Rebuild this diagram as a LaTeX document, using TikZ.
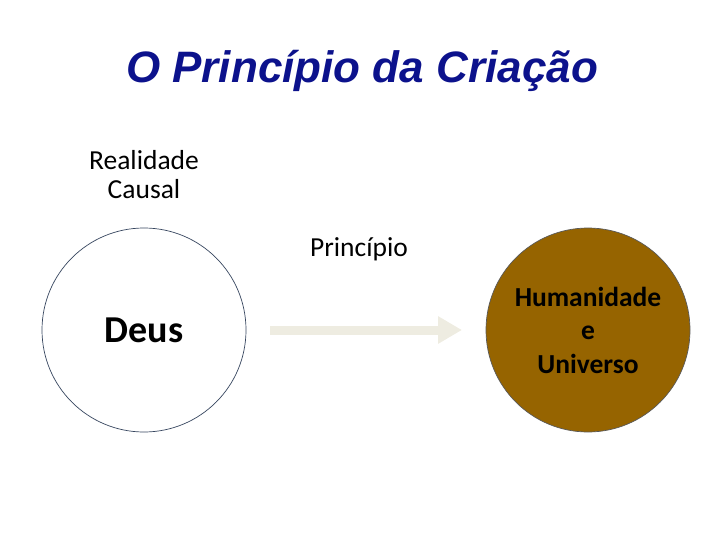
\documentclass[tikz,border=0pt]{standalone}
\usepackage{fontspec}
\setmainfont{Carlito}
\newfontfamily\titlefont{Liberation Sans}
\usetikzlibrary{arrows.meta,positioning}

\definecolor{titleblue}{RGB}{12,18,140}
\definecolor{earthbrown}{RGB}{150,100,0}
\definecolor{arrowbeige}{RGB}{238,236,225}
\definecolor{ringblue}{RGB}{55,70,95}

\begin{document}
\begin{tikzpicture}[
  x=1pt, y=-1pt,
  titletext/.style={font=\titlefont\fontsize{44}{50}\selectfont\bfseries\itshape, text=titleblue},
  plaintext/.style={font=\fontsize{27.5}{29}\selectfont, align=center},
  godcircle/.style={draw=ringblue, line width=0.7pt, circle, minimum size=204pt, inner sep=0pt, fill=white,
    font=\fontsize{38}{44}\selectfont\bfseries},
  worldcircle/.style={draw=black!65, line width=0.7pt, circle, minimum size=204pt, inner sep=0pt, fill=earthbrown,
    align=center, font=\fontsize{27.5}{33.5}\selectfont\bfseries},
  flow/.style={draw=arrowbeige, line width=9pt, -{Triangle[width=26pt,length=24pt]}}
]
\useasboundingbox (0,0) rectangle (720,540);

\node[titletext] (title) at (362,71) {O Princípio da Criação};

\node[plaintext] (causal) at (144,175) {Realidade\\Causal};
\node[godcircle] (deus) at (144,330) {Deus};
\node[worldcircle] (mundo) at (588,330) {Humanidade\\e\\Universo};

\coordinate (flowstart) at (270,330);
\coordinate (flowend) at (462,330);
\node[plaintext] (principio) at (359,249) {Princípio};

\draw[flow] (flowstart) -- (flowend);
\end{tikzpicture}
\end{document}
